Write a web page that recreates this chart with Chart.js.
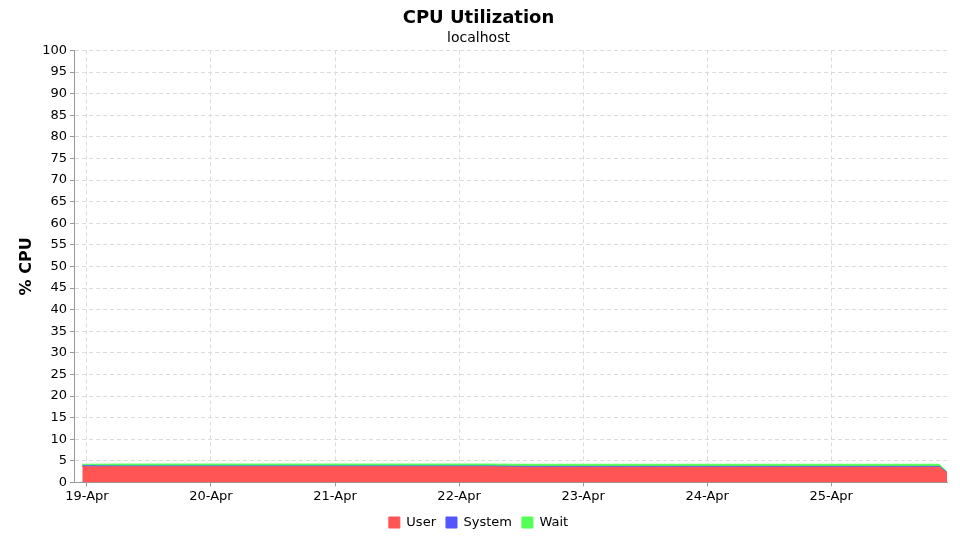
<!DOCTYPE html>
<html>
<head>
<meta charset="utf-8">
<title>CPU Utilization</title>
<script src="https://cdn.jsdelivr.net/npm/chart.js@4/dist/chart.umd.min.js"></script>
<style>
  html, body { margin: 0; padding: 0; background: #fff; }
  #wrap { width: 960px; height: 540px; }
</style>
</head>
<body>
<div id="wrap"><canvas id="cpu"></canvas></div>
<script>
// Hours since 19-Apr 00:00
const hours = [-0.9, 6, 12, 18, 24, 30, 36, 42, 48, 54, 60, 66, 72, 78, 84, 90, 96, 102, 108, 114, 120, 126, 132, 138, 144, 150, 156, 162, 164.9, 166.4];
const userCpu = [3.6, 3.6, 3.6, 3.6, 3.6, 3.6, 3.6, 3.6, 3.6, 3.6, 3.6, 3.6, 3.6, 3.6, 3.5, 3.5, 3.5, 3.5, 3.5, 3.5, 3.5, 3.5, 3.5, 3.5, 3.5, 3.5, 3.5, 3.5, 3.5, 2.2];
const systemCpu = [0.25, 0.2, 0.2, 0.2, 0.2, 0.2, 0.2, 0.2, 0.2, 0.2, 0.2, 0.2, 0.2, 0.2, 0.2, 0.2, 0.2, 0.2, 0.2, 0.2, 0.2, 0.2, 0.2, 0.2, 0.2, 0.2, 0.2, 0.2, 0.2, 0.1];
const waitCpu = [0.35, 0.45, 0.45, 0.45, 0.45, 0.45, 0.45, 0.45, 0.45, 0.45, 0.45, 0.45, 0.45, 0.45, 0.5, 0.5, 0.5, 0.5, 0.5, 0.5, 0.5, 0.5, 0.5, 0.5, 0.5, 0.5, 0.5, 0.5, 0.5, 0.2];
const dayLabels = ['19-Apr', '20-Apr', '21-Apr', '22-Apr', '23-Apr', '24-Apr', '25-Apr'];

const FONT = "'DejaVu Sans', sans-serif";

function series(values) {
    return hours.map((h, i) => ({ x: h, y: values[i] }));
}

function area(label, values, color, fill) {
    return {
        label: label,
        data: series(values),
        backgroundColor: color,
        borderColor: color,
        borderWidth: 1,
        pointRadius: 0,
        tension: 0,
        fill: fill
    };
}

new Chart(document.getElementById('cpu'), {
    type: 'line',
    data: {
        datasets: [
            area('User', userCpu, '#ff5555', 'origin'),
            area('System', systemCpu, '#5555ff', '-1'),
            area('Wait', waitCpu, '#55ff55', '-1')
        ]
    },
    options: {
        responsive: true,
        maintainAspectRatio: false,
        animation: false,
        layout: { padding: { left: 10, right: 13, top: 6, bottom: 1 } },
        plugins: {
            title: {
                display: true,
                text: 'CPU Utilization',
                color: '#000',
                font: { family: FONT, size: 18, weight: 'bold' },
                padding: { top: 2, bottom: 0 }
            },
            subtitle: {
                display: true,
                text: 'localhost',
                color: '#000',
                font: { family: FONT, size: 14 },
                padding: { bottom: 4 }
            },
            legend: {
                position: 'bottom',
                labels: {
                    color: '#000',
                    font: { family: FONT, size: 13 },
                    boxWidth: 11,
                    boxHeight: 11,
                    padding: 10
                }
            },
            tooltip: { enabled: false }
        },
        scales: {
            x: {
                type: 'linear',
                min: -2.5,
                max: 166.4,
                afterBuildTicks: axis => {
                    axis.ticks = dayLabels.map((d, i) => ({ value: i * 24 }));
                },
                ticks: {
                    color: '#000',
                    font: { family: FONT, size: 13 },
                    maxRotation: 0,
                    padding: 2,
                    callback: v => dayLabels[Math.round(v / 24)]
                },
                grid: {
                    color: '#dcdcdc',
                    tickLength: 4,
                    tickColor: '#999'
                },
                border: { display: true, color: '#999', dash: [4, 3] }
            },
            y: {
                stacked: true,
                min: 0,
                max: 100,
                ticks: {
                    stepSize: 5,
                    color: '#000',
                    font: { family: FONT, size: 13 },
                    padding: 3
                },
                grid: {
                    color: '#dcdcdc',
                    tickLength: 4,
                    tickColor: '#999'
                },
                border: { display: true, color: '#999', dash: [4, 3] },
                title: {
                    display: true,
                    text: '% CPU',
                    color: '#000',
                    font: { family: FONT, size: 16, weight: 'bold' },
                    padding: { top: 7, bottom: 3 }
                }
            }
        }
    }
});
</script>
</body>
</html>
